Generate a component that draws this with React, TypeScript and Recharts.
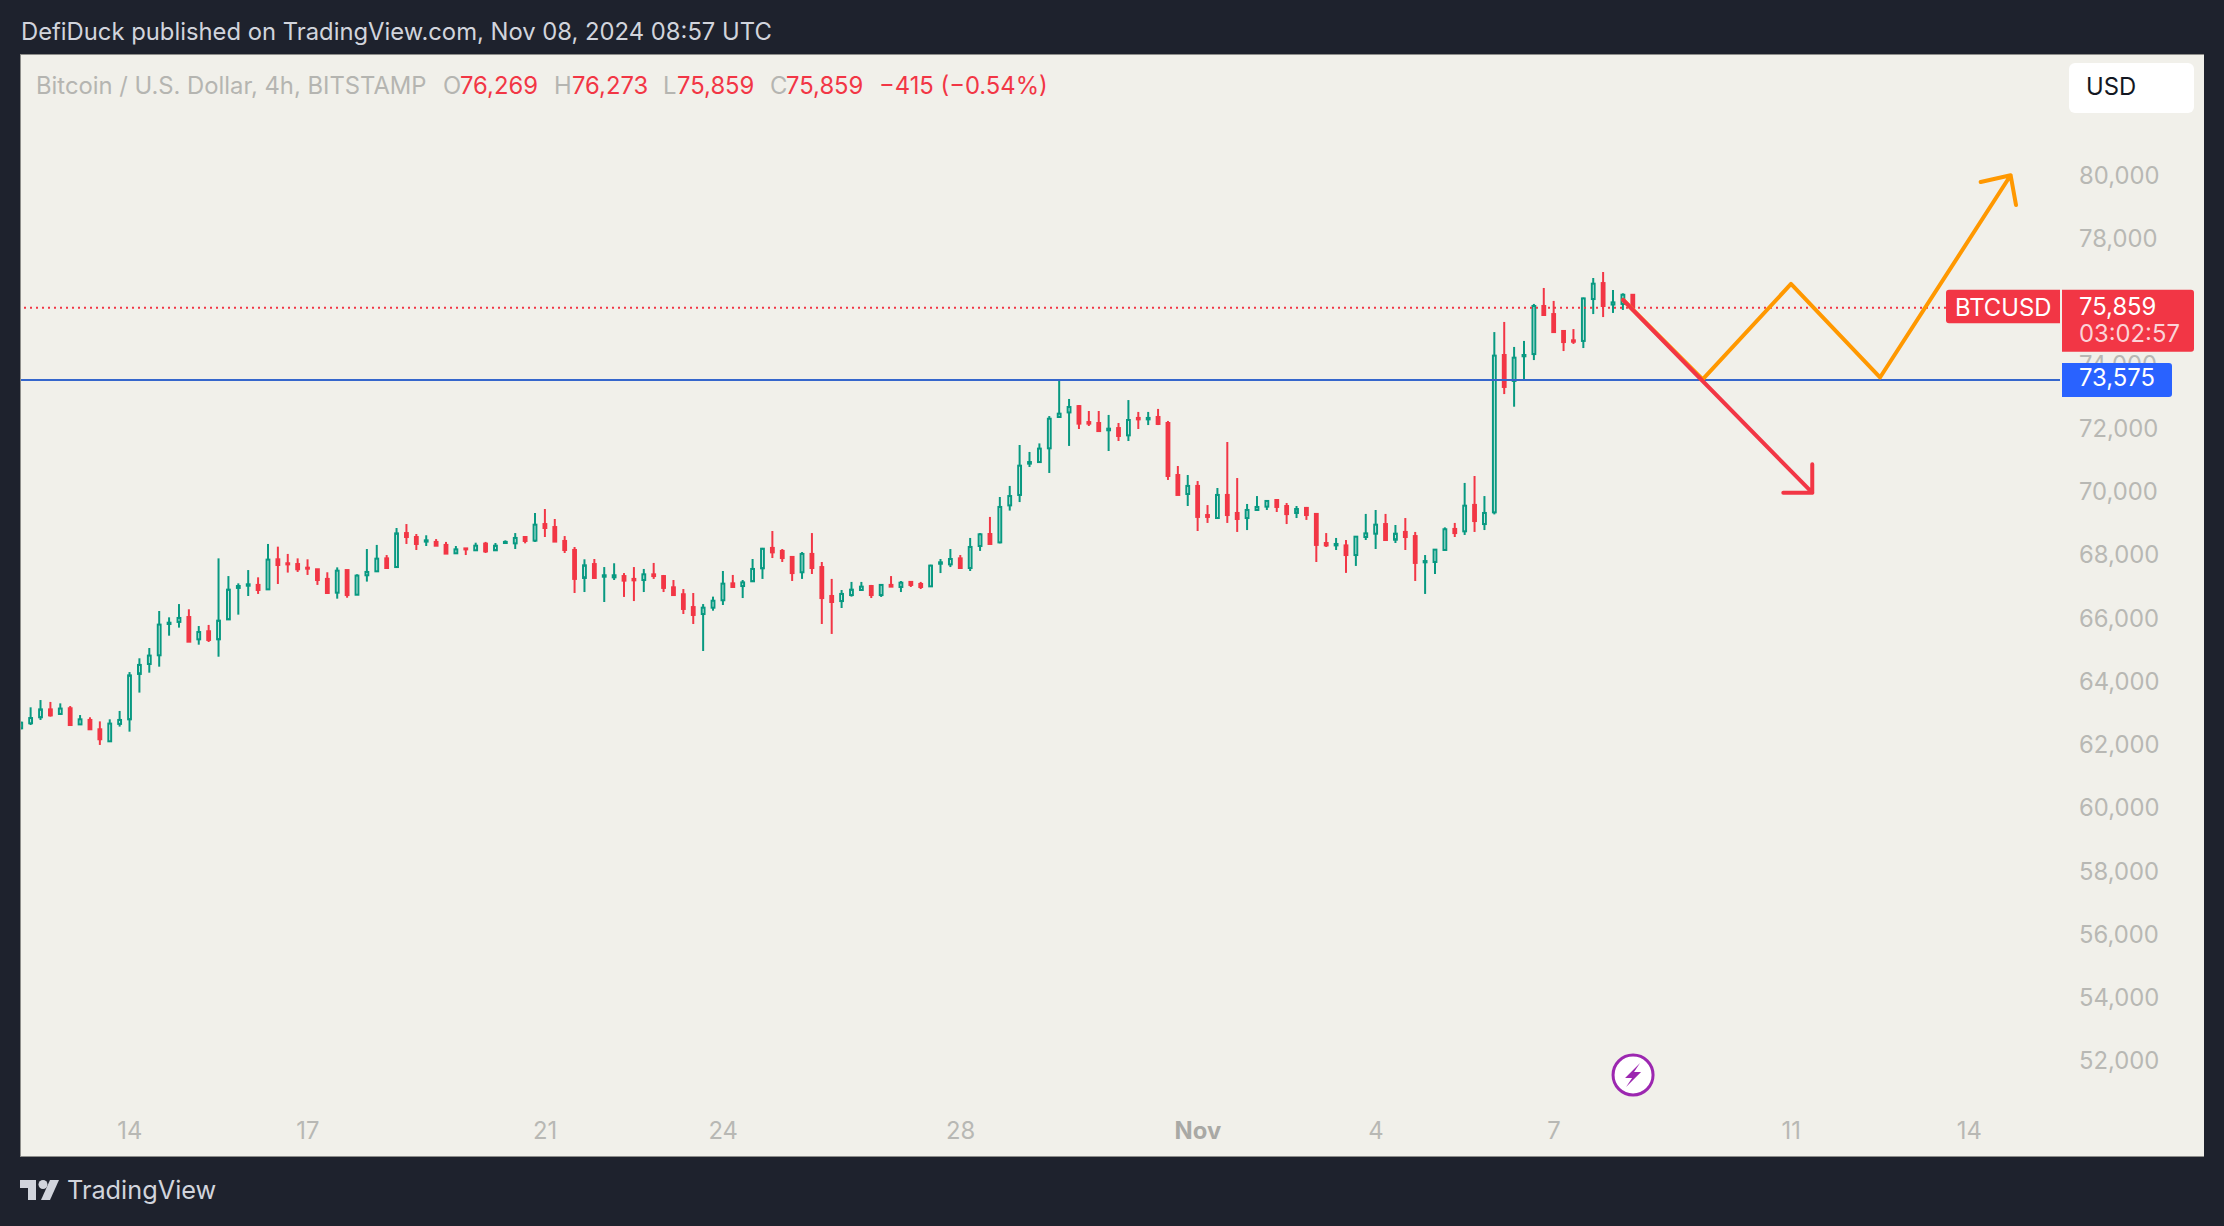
import { Bar, ComposedChart, Line, ReferenceDot, ReferenceLine, XAxis, YAxis } from 'recharts'

const UP = '#089981'
const DOWN = '#f23645'
const ORANGE = '#ff9800'
const BLUE = '#2962ff'
const AXIS_TEXT = '#b8b8b4'
const FONT = 'Inter, sans-serif'
const TEXT_SIZE = 23.8

// 4h candles, left to right, the first one is cut by the panel edge
const opens = [
  62560,62720,62910,63160,63015,63195,62685,62825,62530,62150,
  62700,62845,64280,64595,64870,65860,65925,66080,65375,65630,
  65375,66005,67000,67070,67095,66955,67905,67780,67755,67640,
  67590,67285,66850,67565,66785,67400,67525,67935,67660,68735,
  68610,68465,68455,68360,68095,68250,68190,68400,68190,68420,
  68410,68610,68495,69020,68925,68485,68200,67315,67755,67355,
  67335,67375,67285,67250,67430,67375,67020,66800,66395,66175,
  66375,66610,67145,67060,67210,67620,68265,68170,67980,67495,
  68075,67660,66745,66585,66775,66935,67060,66775,67095,67030,
  67190,67125,67050,67765,67745,67935,67630,68325,68705,68440,
  69610,69940,70930,70980,71415,72405,72550,72750,72245,72215,
  71985,72055,71825,72375,72330,72405,72215,70570,69970,70225,
  69305,69210,69940,69370,69210,69465,69570,69780,69590,69370,
  69530,69340,68420,68345,68345,68040,68610,68715,69020,68525,
  68770,68640,67810,67820,68200,68865,68790,69625,69020,69390,
  74365,73545,74325,74395,75915,75660,75125,74830,74810,76135,
  76640,75960,75980,76269,
]
const highs = [
  62770,63225,63455,63395,63350,63265,62980,62910,62780,62845,
  63110,64340,64775,65100,66270,66070,66490,66325,65795,65830,
  67935,67375,67145,67565,67335,68390,68305,68075,67935,67905,
  67590,67495,67650,67565,67430,68230,68360,68040,68895,69020,
  68705,68665,68545,68455,68325,68250,68430,68455,68420,68505,
  68735,68640,69370,69495,69180,68640,68295,67905,67915,67660,
  67780,67470,67660,67600,67790,67410,67250,66965,66840,66490,
  66725,67535,67410,67250,67915,68265,68800,68230,68010,68135,
  68735,67820,67285,66935,67190,67190,67095,67125,67375,67220,
  67220,67190,67735,67915,68230,68040,68580,68735,69245,69875,
  70225,71520,71300,71570,72435,73575,72975,72785,72595,72595,
  72470,72215,72940,72565,72565,72660,72280,70855,70570,70380,
  69620,70160,71615,70475,69655,69905,69780,69810,69685,69590,
  69560,69370,68735,68580,68515,68640,69340,69465,69340,68990,
  69210,68770,68040,68230,68915,69055,70320,70540,69905,75090,
  75410,74620,74810,75980,76485,76075,75125,75185,76180,76800,
  76990,76420,76315,76273,
]
const lows = [
  62530,62665,62825,62930,62990,62665,62665,62510,62035,62130,
  62615,62455,63690,64320,64510,65490,65745,65300,65205,65290,
  64825,66005,66155,66745,66810,66955,67125,67485,67505,67410,
  67095,66810,66660,66690,66785,67200,67525,67630,67640,68390,
  68200,68325,68335,68085,68085,68040,68180,68105,68180,68390,
  68230,68410,68455,68610,68465,68105,66840,66870,67315,66555,
  67250,66715,66585,66870,67285,66870,66775,66175,65860,65005,
  66280,66460,67030,66680,67210,67285,67945,67820,67220,67285,
  67440,65860,65545,66365,66725,66905,66680,66715,67030,66870,
  67030,66965,67030,67470,67660,67630,67535,68170,68390,68410,
  69445,69715,70825,70980,70635,72395,71490,72025,72120,71930,
  71330,71645,71645,72025,72150,72150,70415,69940,69590,68800,
  69055,69180,69055,68770,68830,69445,69465,69400,69020,69210,
  69150,67820,68295,68200,67475,67695,68515,68230,68515,68420,
  68200,67220,66810,67440,68200,68610,68675,68770,68830,69325,
  73130,72730,73575,74205,75600,75060,74490,74715,74585,75660,
  75565,75695,75790,75859,
]
const closes = [
  62740,62885,63160,62970,63185,62665,62845,62530,62215,62710,
  62825,64235,64565,64860,65840,65900,66050,65300,65605,65355,
  65965,66945,67060,67115,66935,67895,67725,67745,67590,67610,
  67250,66840,67545,66775,67390,67505,67925,67630,68725,68610,
  68390,68505,68335,68085,68220,68220,68335,68155,68335,68455,
  68580,68485,69000,68895,68465,68200,67285,67715,67315,67400,
  67400,67230,67240,67430,67375,67000,66775,66335,66145,66375,
  66595,67135,67030,67175,67600,68240,68125,67945,67470,68075,
  67630,66680,66555,66810,66945,67040,66775,67095,67040,67165,
  67095,67030,67705,67810,67915,67630,68295,68695,68390,69560,
  69905,70865,70980,71405,72350,72510,72720,72195,72195,71960,
  72035,71805,72310,72330,72375,72185,70540,69940,70225,69245,
  69245,69940,69305,69180,69465,69560,69750,69560,69335,69495,
  69305,68360,68345,68390,68040,68620,68725,69000,68515,68715,
  68610,67790,67850,68210,68855,68735,69600,69115,69370,74345,
  73355,74280,74365,75915,75630,75090,74775,74785,76155,76620,
  75915,76030,76270,75859,
]

// 76,000 is fully hidden by the last price tag in the picture, so it is left out
const priceTicks = [52000,54000,56000,58000,60000,62000,64000,66000,68000,70000,72000,74000,78000,80000]
const dateSlots = [11, 29, 53, 71, 95, 119, 137, 155, 179, 197]
const dateLabels = ['14', '17', '21', '24', '28', 'Nov', '4', '7', '11', '14']

const LAST_PRICE = 75859
const LEVEL_PRICE = 73575
const SLOT_DOMAIN = [0, 206.17]
const PRICE_DOMAIN = [50808, 83883]

// drawn forecast paths, slot + price, arrow head goes tip > barb > tip > barb
const orangeSlots = [162, 170.04, 178.97, 187.97, 201.18, 198.15, 201.18, 201.72]
const orangePrices = [76105, 73597, 76611, 73654, 80048, 79836, 80048, 79109]
const redSlots = [162, 181.12, 178.19, 181.12, 181.12]
const redPrices = [76105, 70011, 70011, 70011, 70909]

const candles = opens.map((open, i) => ({
  t: i,
  open,
  high: highs[i],
  low: lows[i],
  close: closes[i],
  range: [lows[i], highs[i]],
}))
const orangePath = orangeSlots.map((t, i) => ({ t, price: orangePrices[i] }))
const redPath = redSlots.map((t, i) => ({ t, price: redPrices[i] }))

function Candle(props: any) {
  const { x, y, width, height, payload } = props
  const { open, high, low, close } = payload
  const perPrice = height / (high - low)
  const yOf = (p: number) => y + (high - p) * perPrice
  const mid = x + width / 2
  const top = yOf(Math.max(open, close))
  const bottom = yOf(Math.min(open, close))
  const up = close >= open
  const color = up ? UP : DOWN
  return (
    <g>
      <line x1={mid} x2={mid} y1={y} y2={y + height} stroke={color} strokeWidth={2} />
      {up ? (
        <rect x={x + 1} y={top} width={width - 2} height={Math.max(bottom - top, 1)} fill="#eef7f3" stroke={color} strokeWidth={2} />
      ) : (
        <rect x={x} y={top - 1} width={width} height={Math.max(bottom - top + 2, 3)} fill={color} />
      )}
    </g>
  )
}

function DateTick(props: any) {
  const { x, y, payload } = props
  const label = dateLabels[dateSlots.indexOf(payload.value)]
  const isMonth = label === 'Nov'
  return (
    <text x={x} y={y + 28} textAnchor="middle" dominantBaseline="central" fontFamily={FONT} fontSize={TEXT_SIZE}
      fontWeight={isMonth ? 700 : 400} fill={isMonth ? '#a9a9a5' : AXIS_TEXT}>
      {label}
    </text>
  )
}

function LastPriceTag(props: any) {
  const { viewBox } = props
  const right = viewBox.x + viewBox.width
  const y = viewBox.y
  return (
    <g fontFamily={FONT} fontSize={TEXT_SIZE}>
      <path d={`M${right},${y - 18} H${right - 111} a3,3 0 0 0 -3,3 V${y + 12.5} a3,3 0 0 0 3,3 H${right} Z`} fill={DOWN} />
      <path d={`M${right + 2},${y - 18} H${right + 131} a3,3 0 0 1 3,3 V${y + 41} a3,3 0 0 1 -3,3 H${right + 2} Z`} fill={DOWN} />
      <text x={right - 105} y={y} dominantBaseline="central" fill="#ffffff">BTCUSD</text>
      <text x={right + 19} y={y - 1} dominantBaseline="central" fill="#ffffff">75,859</text>
      <text x={right + 19} y={y + 26} dominantBaseline="central" fill="#fbd3d7">03:02:57</text>
    </g>
  )
}

function LevelTag(props: any) {
  const { viewBox } = props
  const right = viewBox.x + viewBox.width
  const y = viewBox.y
  return (
    <g fontFamily={FONT} fontSize={TEXT_SIZE}>
      <path d={`M${right + 2},${y - 17} H${right + 109} a3,3 0 0 1 3,3 V${y + 14} a3,3 0 0 1 -3,3 H${right + 2} Z`} fill={BLUE} />
      <text x={right + 19} y={y - 2} dominantBaseline="central" fill="#ffffff">73,575</text>
    </g>
  )
}

function BoltMarker(props: any) {
  const { cx, cy } = props
  return (
    <g transform={`translate(${cx},${cy})`}>
      <circle r={20} fill="#ffffff" stroke="#9c27b0" strokeWidth={3} />
      <path d="M7,-12 L-8,3 L-1,3 L-7,12 L8,-3 L1,-3 Z" fill="#9c27b0" />
    </g>
  )
}

const abs = (left: number, top: number, color: string, size = TEXT_SIZE): React.CSSProperties => ({
  position: 'absolute',
  left,
  top,
  color,
  fontFamily: FONT,
  fontSize: size,
  lineHeight: '30px',
  whiteSpace: 'nowrap',
})

export default function App() {
  return (
    <div style={{ position: 'absolute', left: 0, top: 0, width: 2224, height: 1226, background: '#1e222d', overflow: 'hidden' }}>
      <div style={{ position: 'absolute', left: 20, top: 54, width: 2183, height: 1101, background: '#f1f0ea', border: '1px solid #8e8e8b', borderRight: 'none' }} />

      <ComposedChart
        width={2224}
        height={1226}
        data={candles}
        margin={{ top: 54, right: 21, bottom: 71, left: 21 }}
        style={{ position: 'absolute', left: 0, top: 0 }}
      >
        <XAxis
          dataKey="t"
          type="number"
          domain={SLOT_DOMAIN}
          allowDataOverflow
          ticks={dateSlots}
          height={55}
          axisLine={false}
          tickLine={false}
          tickSize={0}
          tick={DateTick}
          interval={0}
        />
        <YAxis
          orientation="right"
          domain={PRICE_DOMAIN}
          allowDataOverflow
          ticks={priceTicks}
          width={143}
          axisLine={false}
          tickLine={false}
          tickSize={0}
          tickMargin={19}
          interval={0}
          tick={{ fill: AXIS_TEXT, fontSize: TEXT_SIZE, fontFamily: FONT, dy: -1.5 }}
          tickFormatter={(v: number) => v.toLocaleString('en-US')}
        />
        <ReferenceLine y={LEVEL_PRICE} stroke="#3566cc" strokeWidth={2} />
        <ReferenceLine y={LAST_PRICE} stroke={DOWN} strokeWidth={2} strokeDasharray="2 4" />
        <Bar dataKey="range" barSize={8} shape={Candle} isAnimationActive={false} />
        <Line data={orangePath} dataKey="price" stroke={ORANGE} strokeWidth={4} strokeLinecap="round" strokeLinejoin="round" dot={false} activeDot={false} isAnimationActive={false} />
        <Line data={redPath} dataKey="price" stroke={DOWN} strokeWidth={4} strokeLinecap="round" strokeLinejoin="round" dot={false} activeDot={false} isAnimationActive={false} />
        <ReferenceDot x={163} y={51599} shape={BoltMarker} />
      </ComposedChart>

      {/* second layer, the price tags have to sit above the axis labels */}
      <ComposedChart
        width={2224}
        height={1226}
        data={candles}
        margin={{ top: 54, right: 164, bottom: 126, left: 21 }}
        style={{ position: 'absolute', left: 0, top: 0 }}
      >
        <XAxis dataKey="t" type="number" domain={SLOT_DOMAIN} allowDataOverflow hide />
        <YAxis domain={PRICE_DOMAIN} allowDataOverflow hide />
        <ReferenceLine y={LEVEL_PRICE} stroke="none" label={LevelTag} />
        <ReferenceLine y={LAST_PRICE} stroke="none" label={LastPriceTag} />
      </ComposedChart>

      <div style={abs(21, 17, '#d1d4dc')}>DefiDuck published on TradingView.com, Nov 08, 2024 08:57 UTC</div>

      <div style={abs(36, 71, '#b5b5b1')}>Bitcoin / U.S. Dollar, 4h, BITSTAMP</div>
      <div style={abs(443, 71, '#b5b5b1')}>O</div>
      <div style={abs(460, 71, DOWN)}>76,269</div>
      <div style={abs(554, 71, '#b5b5b1')}>H</div>
      <div style={abs(572, 71, DOWN)}>76,273</div>
      <div style={abs(663, 71, '#b5b5b1')}>L</div>
      <div style={abs(677, 71, DOWN)}>75,859</div>
      <div style={abs(770, 71, '#b5b5b1')}>C</div>
      <div style={abs(786, 71, DOWN)}>75,859</div>
      <div style={abs(879, 71, DOWN)}>−415 (−0.54%)</div>

      <div style={{ position: 'absolute', left: 2069, top: 63, width: 125, height: 50, background: '#ffffff', borderRadius: 6 }} />
      <div style={abs(2086, 72, '#131722')}>USD</div>

      <svg width={42} height={24} style={{ position: 'absolute', left: 19, top: 1178 }}>
        <path d="M1,2 H17 V22 H9 V10 H1 Z" fill="#d1d4dc" />
        <circle cx={24} cy={6.5} r={4.5} fill="#d1d4dc" />
        <path d="M31,2 H40 L31,22 H22 Z" fill="#d1d4dc" />
      </svg>
      <div style={abs(67, 1175, '#d1d4dc', 25.3)}>TradingView</div>
    </div>
  )
}
